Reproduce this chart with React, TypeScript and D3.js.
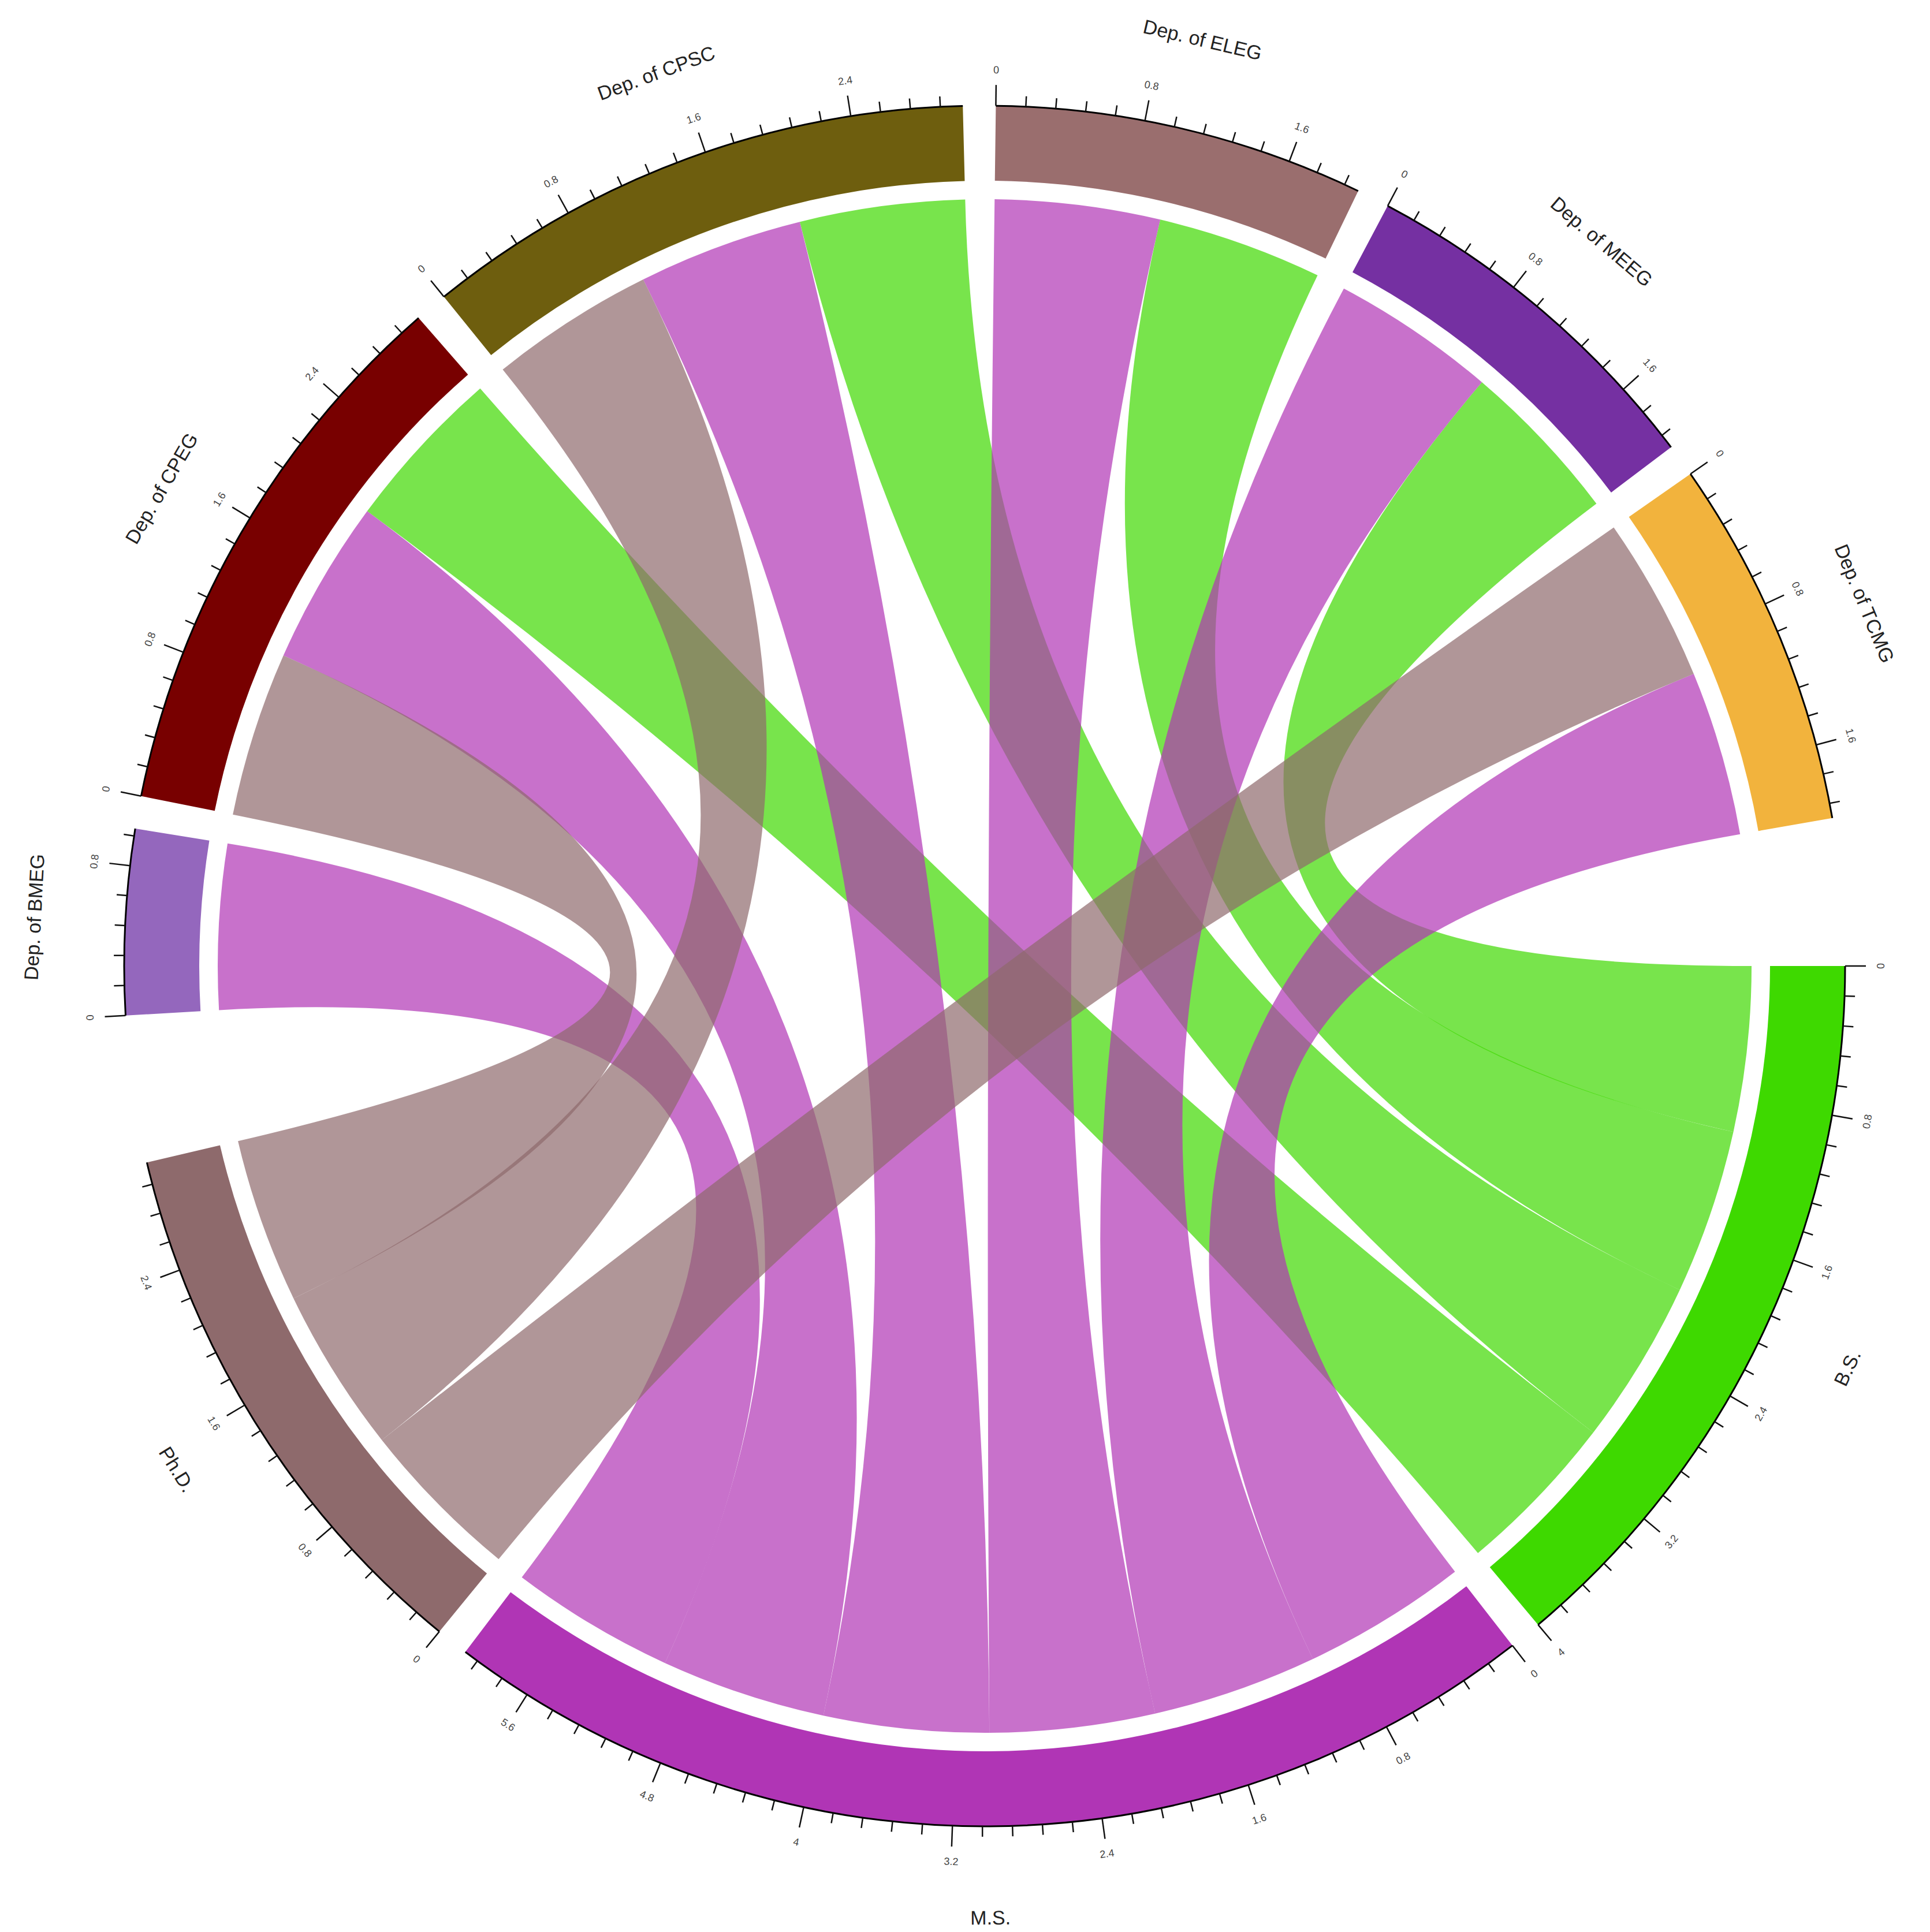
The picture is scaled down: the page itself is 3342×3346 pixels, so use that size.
import React from "react";
import * as d3 from "d3";

// degree sectors (columns) and department sectors (rows)
const degrees = ["B.S.", "M.S.", "Ph.D."];
const degreeColors = ["#3ED900", "#B035B5", "#8E6A6C"];
const departments = [
  "Dep. of BMEG",
  "Dep. of CPEG",
  "Dep. of CPSC",
  "Dep. of ELEG",
  "Dep. of MEEG",
  "Dep. of TCMG",
];
const departmentColors = ["#9467BD", "#780000", "#6E5E0E", "#9A6E6E", "#7530A2", "#F2B33D"];

// flow from each department to each degree (same order as departments)
const bsCounts = [0, 1, 1, 1, 1, 0];
const msCounts = [1, 1, 1, 1, 1, 1];
const phdCounts = [0, 1, 1, 0, 0, 1];

const W = 3342;
const H = 3346;
const cx = 1705;
const cy = 1673;
const R = 1490;
const trackH = 130;
const linkR = 1328;
const smallGap = 2.2;
const bigGap = 9.9;

const flows = [bsCounts, msCounts, phdCounts];

function App() {
  const deptTotals = departments.map((_, i) => d3.sum(flows, f => f[i]));
  const degTotals = flows.map(f => d3.sum(f));

  const sectors = [
    ...degrees.map((name, j) => ({ name, color: degreeColors[j], total: degTotals[j] })),
    ...departments.map((name, i) => ({ name, color: departmentColors[i], total: deptTotals[i] })),
  ];
  const gaps = sectors.map((_, k) => (k === 2 || k === sectors.length - 1 ? bigGap : smallGap));
  const unit = (360 - d3.sum(gaps)) / d3.sum(sectors, s => s.total);

  const starts = [];
  let acc = 0;
  sectors.forEach((s, k) => {
    starts.push(acc);
    acc += s.total * unit + gaps[k];
  });

  // screen degrees (0 = east, clockwise) -> d3 radians (0 = north, clockwise)
  const toRad = deg => ((deg + 90) * Math.PI) / 180;
  const ang = (k, v) => starts[k] + v * unit;

  // place links inside sectors
  const degCursor = degrees.map(() => 0);
  const deptCursor = departments.map(() => 0);
  const degPos = {};
  const deptPos = {};
  degrees.forEach((_, j) => {
    for (let i = departments.length - 1; i >= 0; i--) {
      const v = flows[j][i];
      if (!v) continue;
      degPos[`${i}-${j}`] = [degCursor[j], degCursor[j] + v];
      degCursor[j] += v;
    }
  });
  departments.forEach((_, i) => {
    for (let j = degrees.length - 1; j >= 0; j--) {
      const v = flows[j][i];
      if (!v) continue;
      deptPos[`${i}-${j}`] = [deptCursor[i], deptCursor[i] + v];
      deptCursor[i] += v;
    }
  });

  const ribbon = d3.ribbon().radius(linkR);
  const links = [];
  degrees.forEach((_, j) => {
    departments.forEach((_, i) => {
      if (!flows[j][i]) return;
      const dp = deptPos[`${i}-${j}`];
      const gp = degPos[`${i}-${j}`];
      const kDept = degrees.length + i;
      const d = ribbon({
        source: { startAngle: toRad(ang(kDept, dp[0])), endAngle: toRad(ang(kDept, dp[1])) },
        target: { startAngle: toRad(ang(j, gp[0])), endAngle: toRad(ang(j, gp[1])) },
      });
      links.push({ d, color: degreeColors[j], key: `${i}-${j}` });
    });
  });

  const trackArc = d3.arc().innerRadius(R - trackH).outerRadius(R);
  const axisArc = d3.arc().innerRadius(R).outerRadius(R);

  const pt = (deg, r) => [r * Math.cos((deg * Math.PI) / 180), r * Math.sin((deg * Math.PI) / 180)];
  const rot = deg => {
    const a = ((deg % 360) + 360) % 360;
    return a >= 180 ? a + 90 : a - 90;
  };
  const fmt = v => String(Math.round(v * 10) / 10);

  return (
    <svg
      width={W}
      height={H}
      style={{ position: "absolute", left: 0, top: 0, background: "#fff" }}
      fontFamily="'Liberation Sans', Arial, sans-serif"
    >
      <g transform={`translate(${cx},${cy})`}>
        {sectors.map((s, k) => (
          <path
            key={"t" + k}
            d={trackArc({ startAngle: toRad(ang(k, 0)), endAngle: toRad(ang(k, s.total)) })}
            fill={s.color}
          />
        ))}
        {sectors.map((s, k) => (
          <path
            key={"a" + k}
            d={axisArc({ startAngle: toRad(ang(k, 0)), endAngle: toRad(ang(k, s.total)) })}
            fill="none"
            stroke="#000"
            strokeWidth={3}
          />
        ))}
        {sectors.map((s, k) => {
          const n = Math.floor(s.total / 0.16 + 1e-6);
          return d3.range(n + 1).map(t => {
            const v = t * 0.16;
            const major = t % 5 === 0;
            const a = ang(k, v);
            const [x1, y1] = pt(a, R);
            const [x2, y2] = pt(a, R + (major ? 36 : 18));
            const [lx, ly] = pt(a, R + 62);
            return (
              <g key={`tk${k}-${t}`}>
                <line x1={x1} y1={y1} x2={x2} y2={y2} stroke="#111" strokeWidth={2.5} />
                {major && (
                  <text
                    x={lx}
                    y={ly}
                    transform={`rotate(${rot(a)},${lx},${ly})`}
                    textAnchor="middle"
                    dominantBaseline="central"
                    fontSize={18}
                    fill="#444"
                  >
                    {fmt(v)}
                  </text>
                )}
              </g>
            );
          });
        })}
        {links.map(l => (
          <path key={l.key} d={l.d} fill={l.color} fillOpacity={0.7} />
        ))}
        {sectors.map((s, k) => {
          const a = ang(k, s.total / 2);
          const [lx, ly] = pt(a, R + 158);
          return (
            <text
              key={"l" + k}
              x={lx}
              y={ly}
              transform={`rotate(${rot(a)},${lx},${ly})`}
              textAnchor="middle"
              dominantBaseline="central"
              fontSize={34}
              fill="#222"
            >
              {s.name}
            </text>
          );
        })}
      </g>
    </svg>
  );
}

export default App;
